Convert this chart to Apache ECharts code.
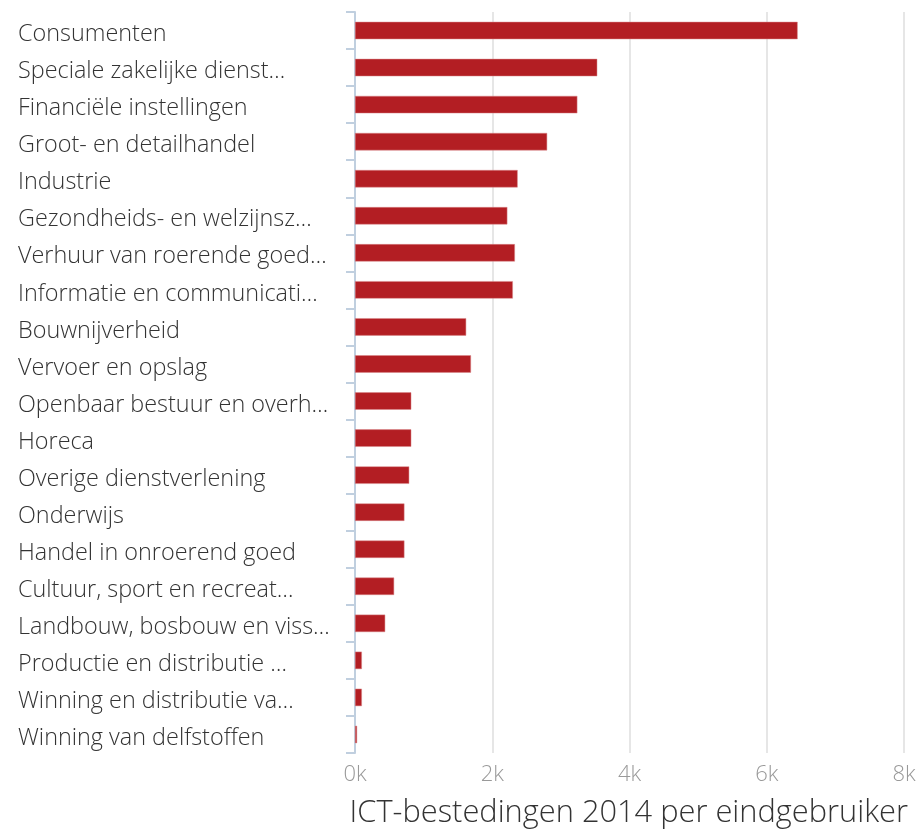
<!DOCTYPE html>
<html>
<head>
<meta charset="utf-8">
<script src="https://cdn.jsdelivr.net/npm/echarts@6/dist/echarts.min.js"></script>
<style>
  html, body { margin: 0; padding: 0; background: #fff; }
  #chart { width: 922px; height: 833px; }
</style>
</head>
<body>
<div id="chart"></div>
<script>
var categories = [
    'Consumenten',
    'Speciale zakelijke dienst…',
    'Financiële instellingen',
    'Groot- en detailhandel',
    'Industrie',
    'Gezondheids- en welzijnsz…',
    'Verhuur van roerende goed…',
    'Informatie en communicati…',
    'Bouwnijverheid',
    'Vervoer en opslag',
    'Openbaar bestuur en overh…',
    'Horeca',
    'Overige dienstverlening',
    'Onderwijs',
    'Handel in onroerend goed',
    'Cultuur, sport en recreat…',
    'Landbouw, bosbouw en viss…',
    'Productie en distributie …',
    'Winning en distributie va…',
    'Winning van delfstoffen'
];
var values = [6450, 3530, 3240, 2800, 2370, 2220, 2330, 2300, 1620, 1690,
              820, 820, 790, 720, 720, 570, 440, 100, 100, 30];
var axisTitle = 'ICT-bestedingen 2014 per eindgebruiker';

var dom = document.getElementById('chart');
var myChart = echarts.init(dom);

var option = {
    animation: false,
    textStyle: { fontFamily: 'Open Sans' },
    title: {
        text: axisTitle,
        right: 9,
        bottom: -1,
        textStyle: { fontFamily: 'Open Sans', fontSize: 30.8, fontWeight: 300, color: '#333' }
    },
    grid: { left: 355, right: 18, top: 12, bottom: 80 },
    xAxis: {
        type: 'value',
        min: 0,
        max: 8000,
        interval: 2000,
        axisLine: { show: false },
        axisTick: { show: false },
        splitLine: { lineStyle: { color: '#e6e6e6', width: 2 } },
        axisLabel: {
            color: '#999',
            fontSize: 22,
            fontWeight: 300,
            margin: 11,
            formatter: function (v) { return (v / 1000) + 'k'; }
        }
    },
    yAxis: {
        type: 'category',
        data: categories,
        inverse: true,
        axisLine: { show: true, lineStyle: { color: '#c0cfdf', width: 2 } },
        axisTick: { show: true, length: 9, lineStyle: { color: '#c0cfdf', width: 2 } },
        axisLabel: {
            align: 'left',
            verticalAlign: 'top',
            lineHeight: 8,
            margin: 337,
            color: '#333',
            fontSize: 23.4,
            fontWeight: 300
        }
    },
    series: [{
        type: 'bar',
        data: values,
        barCategoryGap: '53%',
        itemStyle: { color: '#b31e23', borderColor: '#d9898b', borderWidth: 0.5 }
    }]
};
myChart.setOption(option);
</script>
</body>
</html>
